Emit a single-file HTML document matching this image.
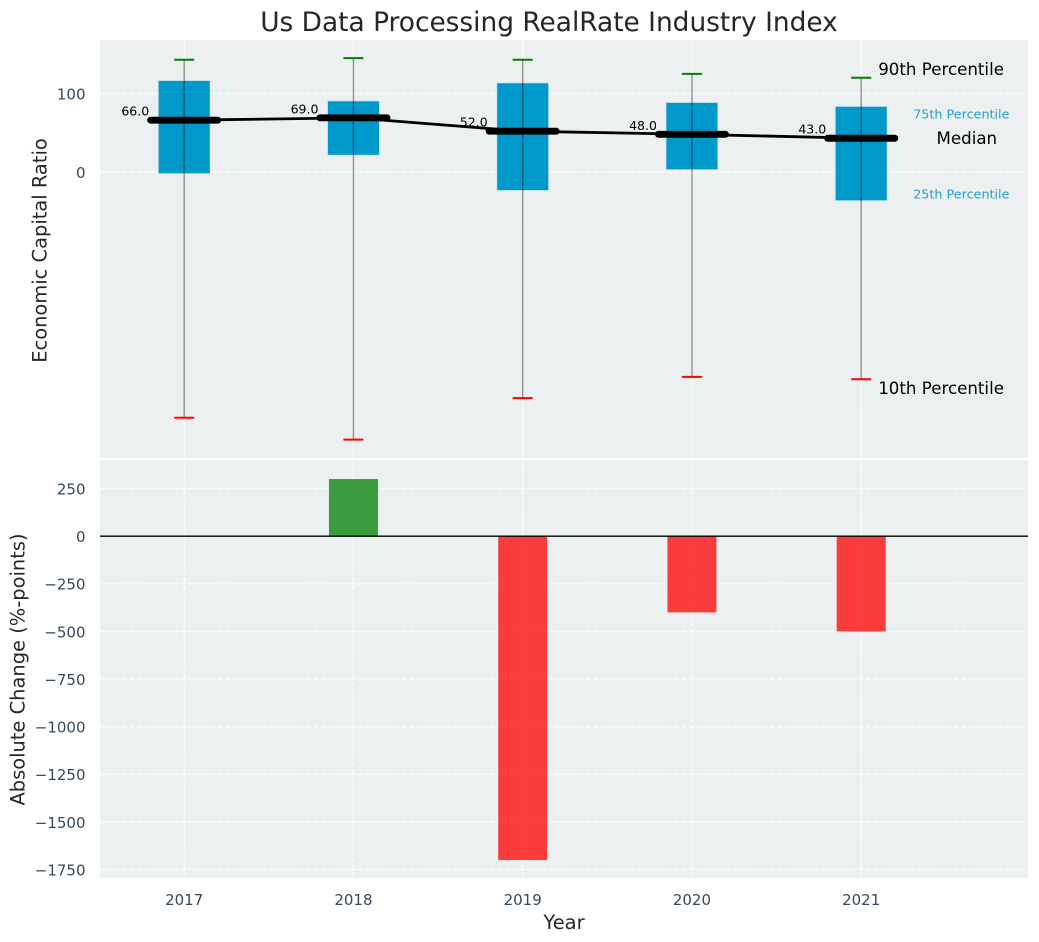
<!DOCTYPE html>
<html>
<head>
<meta charset="utf-8">
<title>Us Data Processing RealRate Industry Index</title>
<style>
html,body{margin:0;padding:0;background:#fff;}
svg{display:block;}
text{font-family:"DejaVu Sans","Liberation Sans",sans-serif;}
</style>
</head>
<body>
<svg id="chart" width="1039" height="942" viewBox="0 0 1039 942" xmlns="http://www.w3.org/2000/svg"></svg>
<script>
const years = [2017, 2018, 2019, 2020, 2021];
const p90 = [143, 145, 143, 125, 120];
const p75 = [116, 90, 113, 88, 83];
const medians = [66, 69, 52, 48, 43];
const p25 = [-1.5, 22, -23, 3.5, -36];
const p10 = [-313, -341, -288, -261, -264];
const changes = [0, 300, -1700, -400, -500];
const topTicks = [100, 0];
const bottomTicks = [250, 0, -250, -500, -750, -1000, -1250, -1500, -1750];

const svg = document.getElementById('chart');
const NS = 'http://www.w3.org/2000/svg';
const left = 100, right = 1028;
const topPanelTop = 40, topPanelBottom = 458;
const botPanelTop = 460, botPanelBottom = 878;

function xAt(i) { return 184.2 + i * 169.25; }
function yTop(v) { return 172 - v * 0.785; }
function yBot(v) { return 536.2 - v * 0.1905; }

function make(tag, attrs, text) {
  const el = document.createElementNS(NS, tag);
  for (const k in attrs) el.setAttribute(k, attrs[k]);
  if (text !== undefined) el.textContent = text;
  svg.appendChild(el);
  return el;
}
function named(el, name) {
  
  
  return el;
}

named(make('rect', {x: left, y: topPanelTop, width: right - left, height: topPanelBottom - topPanelTop, fill: '#ecf0f1'}), 'top-panel-background');
named(make('rect', {x: left, y: botPanelTop, width: right - left, height: botPanelBottom - botPanelTop, fill: '#ecf0f1'}), 'bottom-panel-background');

const gridStyle = {stroke: '#ffffff', 'stroke-opacity': 0.8, 'stroke-width': 1.39, 'stroke-dasharray': '5.14 2.22'};
years.forEach(function (yr, i) {
  named(make('line', Object.assign({x1: xAt(i), x2: xAt(i), y1: topPanelTop, y2: topPanelBottom}, gridStyle)), 'top-gridline-x-' + yr);
  named(make('line', Object.assign({x1: xAt(i), x2: xAt(i), y1: botPanelTop, y2: botPanelBottom}, gridStyle)), 'bottom-gridline-x-' + yr);
  named(make('text', {x: xAt(i), y: 905, 'text-anchor': 'middle', 'font-size': 15, fill: '#34495e'}, String(yr)), 'x-tick-label-' + yr);
});
topTicks.forEach(function (t) {
  named(make('line', Object.assign({x1: left, x2: right, y1: yTop(t), y2: yTop(t)}, gridStyle)), 'top-gridline-y-' + t);
  named(make('text', {x: 85.5, y: yTop(t) + 5.8, 'text-anchor': 'end', 'font-size': 15, fill: '#34495e'}, String(t)), 'top-y-tick-label-' + t);
});
bottomTicks.forEach(function (t) {
  named(make('line', Object.assign({x1: left, x2: right, y1: yBot(t), y2: yBot(t)}, gridStyle)), 'bottom-gridline-y-' + t);
  named(make('text', {x: 85.5, y: yBot(t) + 5.8, 'text-anchor': 'end', 'font-size': 15, fill: '#34495e'}, String(t).replace('-', '\u2212')), 'bottom-y-tick-label-' + t);
});

years.forEach(function (yr, i) {
  const x = xAt(i);
  const boxTop = yTop(p75[i]), boxBottom = yTop(p25[i]);
  named(make('rect', {x: x - 25.5, y: boxTop, width: 51, height: boxBottom - boxTop, fill: '#0099cc', stroke: '#0099cc', 'stroke-opacity': 0.25, 'stroke-width': 1}), 'iqr-box-' + yr);
  named(make('line', {x1: x, x2: x, y1: yTop(p90[i]), y2: yTop(p10[i]), stroke: '#000000', 'stroke-opacity': 0.42, 'stroke-width': 1.39}), 'whisker-' + yr);
  named(make('line', {x1: x - 10, x2: x + 10, y1: yTop(p90[i]), y2: yTop(p90[i]), stroke: '#008000', 'stroke-width': 2}), 'p90-cap-' + yr);
  named(make('line', {x1: x - 10, x2: x + 10, y1: yTop(p10[i]), y2: yTop(p10[i]), stroke: '#ff0000', 'stroke-width': 2}), 'p10-cap-' + yr);
});

named(make('polyline', {points: medians.map(function (m, i) { return xAt(i) + ',' + yTop(m); }).join(' '), fill: 'none', stroke: '#000000', 'stroke-width': 2.78}), 'median-trend-line');

years.forEach(function (yr, i) {
  const x = xAt(i), y = yTop(medians[i]);
  named(make('line', {x1: x - 33.5, x2: x + 33.5, y1: y, y2: y, stroke: '#000000', 'stroke-width': 6.95, 'stroke-linecap': 'round'}), 'median-bar-' + yr);
  named(make('text', {x: x - 35, y: y - 4.5, 'text-anchor': 'end', 'font-size': 12.5, fill: '#000000'}, medians[i].toFixed(1)), 'median-value-' + yr);
});

const lastX = xAt(years.length - 1);
named(make('text', {x: lastX + 17, y: yTop(p90[4]) - 2.8, 'font-size': 16.67, fill: '#000000'}, '90th Percentile'), 'annotation-90th-percentile');
named(make('text', {x: lastX + 52, y: yTop(p75[4]) + 11.5, 'font-size': 12.75, fill: '#1fa3cf'}, '75th Percentile'), 'annotation-75th-percentile');
named(make('text', {x: lastX + 75.3, y: yTop(medians[4]) + 5.8, 'font-size': 16.67, fill: '#000000'}, 'Median'), 'annotation-median');
named(make('text', {x: lastX + 52, y: yTop(p25[4]) - 2, 'font-size': 12.75, fill: '#1fa3cf'}, '25th Percentile'), 'annotation-25th-percentile');
named(make('text', {x: lastX + 17, y: yTop(p10[4]) + 15, 'font-size': 16.67, fill: '#000000'}, '10th Percentile'), 'annotation-10th-percentile');

years.forEach(function (yr, i) {
  const v = changes[i];
  if (v === 0) return;
  const y0 = yBot(0), y1 = yBot(v);
  const color = v > 0 ? '#008000' : '#ff0000';
  named(make('rect', {x: xAt(i) - 24.5, y: Math.min(y0, y1), width: 49, height: Math.abs(y1 - y0), fill: color, 'fill-opacity': 0.75}), 'change-bar-' + yr);
});
named(make('line', {x1: left, x2: right, y1: yBot(0), y2: yBot(0), stroke: '#000000', 'stroke-width': 1.39}), 'zero-line');

named(make('text', {x: 549, y: 31, 'text-anchor': 'middle', 'font-size': 26.4, fill: '#262626'}, 'Us Data Processing RealRate Industry Index'), 'chart-title');
named(make('text', {x: 564, y: 929, 'text-anchor': 'middle', 'font-size': 19.44, fill: '#262626'}, 'Year'), 'x-axis-title');
named(make('text', {transform: 'translate(46.5 250.5) rotate(-90)', 'text-anchor': 'middle', 'font-size': 19.44, fill: '#262626'}, 'Economic Capital Ratio'), 'top-y-axis-title');
named(make('text', {transform: 'translate(24.5 669.5) rotate(-90)', 'text-anchor': 'middle', 'font-size': 19.44, fill: '#262626'}, 'Absolute Change (%-points)'), 'bottom-y-axis-title');
</script>
</body>
</html>
